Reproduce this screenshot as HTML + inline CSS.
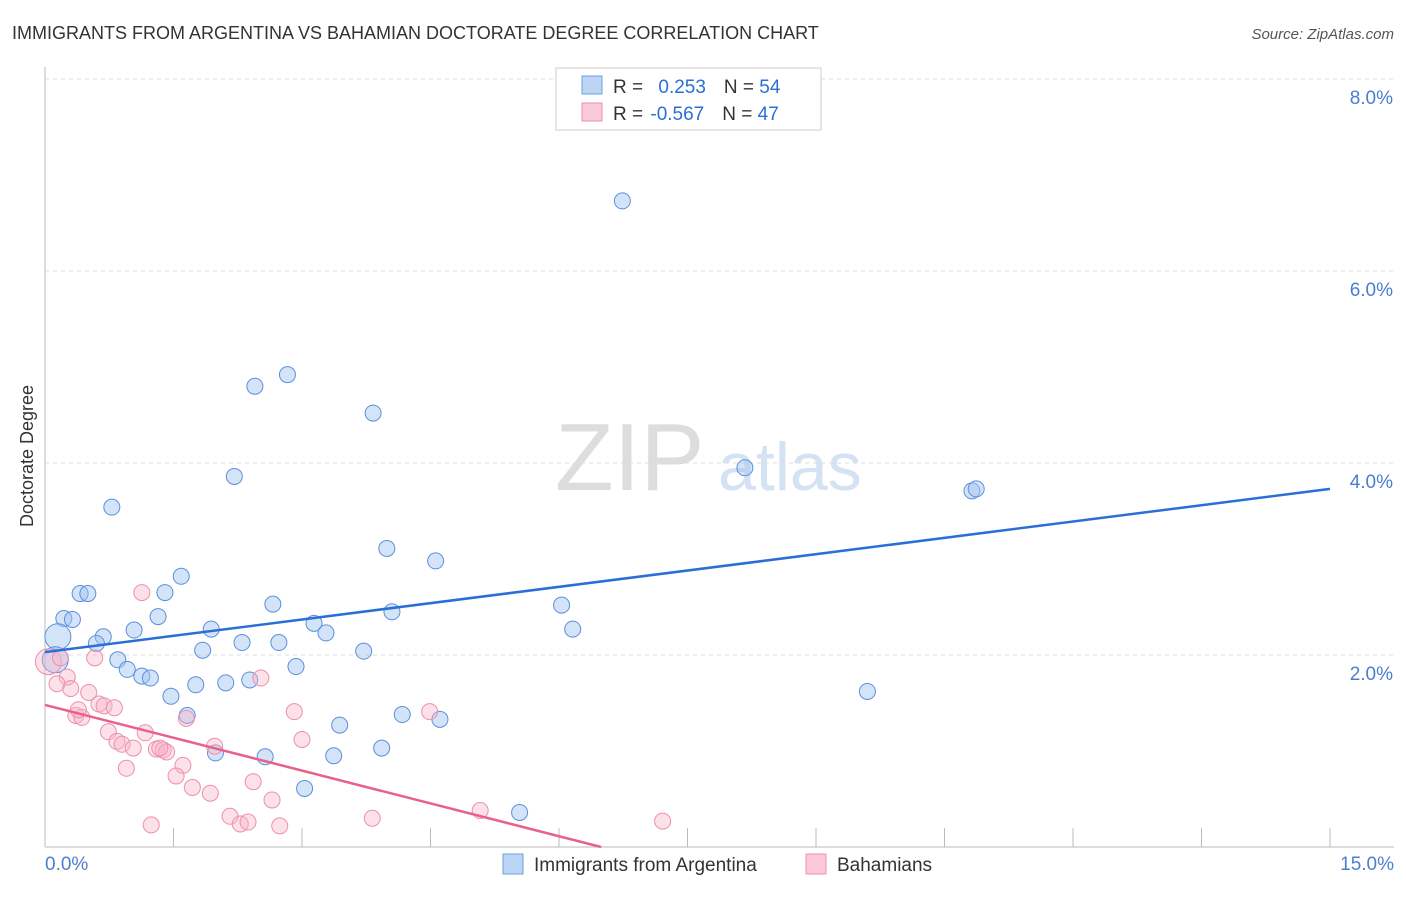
<!DOCTYPE html>
<html><head><meta charset="utf-8"><style>
body{margin:0;background:#fff;font-family:"Liberation Sans",sans-serif}
svg text{font-family:"Liberation Sans",sans-serif}
</style></head><body>
<svg id="c" width="1406" height="892">
<text x="12" y="39" font-size="18" fill="#333">IMMIGRANTS FROM ARGENTINA VS BAHAMIAN DOCTORATE DEGREE CORRELATION CHART</text>
<text x="1394" y="39" font-size="15" fill="#555" font-style="italic" text-anchor="end">Source: ZipAtlas.com</text>
<text x="0" y="0" transform="translate(33,456) rotate(-90)" font-size="18" fill="#333" text-anchor="middle">Doctorate Degree</text>
<text x="555" y="490" font-size="96" fill="#ddd" font-family="Liberation Serif">ZIP</text>
<text x="718" y="490" font-size="68" fill="#d5e2f3">atlas</text>
<g id="grid"></g><g id="pts"></g><g id="lines"></g>
<g>
<rect x="556" y="68" width="265" height="62" fill="#fff" stroke="#ccc"/>
<rect x="582" y="76" width="20" height="18" fill="#bdd5f5" stroke="#6d9fe0"/>
<rect x="582" y="103" width="20" height="18" fill="#fbcad8" stroke="#ee8fab"/>
<text x="613" y="93" font-size="19" fill="#333">R = <tspan fill="#2a6fd6" dx="10">0.253</tspan><tspan dx="18" fill="#333">N = </tspan><tspan fill="#2a6fd6">54</tspan></text>
<text x="613" y="120" font-size="19" fill="#333">R = <tspan fill="#2a6fd6" dx="2">-0.567</tspan><tspan dx="18" fill="#333">N = </tspan><tspan fill="#2a6fd6">47</tspan></text>
</g>
<g>
<rect x="503" y="854" width="20" height="20" fill="#bdd5f5" stroke="#6d9fe0"/>
<text x="534" y="871" font-size="19" fill="#333">Immigrants from Argentina</text>
<rect x="806" y="854" width="20" height="20" fill="#fbcad8" stroke="#ee8fab"/>
<text x="837" y="871" font-size="19" fill="#333">Bahamians</text>
</g>
</svg>
<script>
const xTicks=[0,1.5,3,4.5,6,7.5,9,10.5,12,13.5,15];
const yTicks=[2,4,6,8];
const blueX=[6.74,2.83,2.45,3.83,2.21,8.17,10.82,10.87,0.78,3.99,4.56,1.59,0.41,0.50,1.40,6.03,1.32,0.22,0.32,4.05,2.66,3.14,1.04,1.94,6.16,0.15,0.68,3.28,0.60,2.30,2.73,1.84,3.72,2.93,0.85,0.96,1.13,1.23,0.12,9.60,1.47,1.76,2.11,2.39,1.66,4.17,4.61,3.44,1.99,2.57,3.93,3.37,3.03,5.54];
const blueY=[6.73,4.92,4.80,4.52,3.86,3.95,3.71,3.73,3.54,3.11,2.98,2.82,2.64,2.64,2.65,2.52,2.40,2.38,2.37,2.45,2.53,2.33,2.26,2.27,2.27,2.19,2.19,2.23,2.12,2.13,2.13,2.05,2.04,1.88,1.95,1.85,1.78,1.76,1.95,1.62,1.57,1.69,1.71,1.74,1.37,1.38,1.33,1.27,0.98,0.94,1.03,0.95,0.61,0.36];
const blueR=[8,8,8,8,8,8,8,8,8,8,8,8,8,8,8,8,8,8,8,8,8,8,8,8,8,13,8,8,8,8,8,8,8,8,8,8,8,8,13,8,8,8,8,8,8,8,8,8,8,8,8,8,8,8];
const pinkX=[0.04,0.18,1.13,0.58,0.26,0.14,0.30,0.51,0.63,0.69,0.81,0.36,0.43,1.65,2.91,4.49,0.74,0.84,0.90,1.17,1.03,1.30,1.38,1.42,0.95,1.61,1.53,1.98,3.00,1.72,1.93,2.52,2.43,2.65,2.16,2.28,2.37,2.74,1.24,3.82,5.08,7.21,1.34,0.39];
const pinkY=[1.93,1.97,2.65,1.97,1.77,1.70,1.65,1.61,1.49,1.47,1.45,1.37,1.35,1.34,1.41,1.41,1.20,1.10,1.07,1.19,1.03,1.02,1.01,0.99,0.82,0.85,0.74,1.05,1.12,0.62,0.56,1.76,0.68,0.49,0.32,0.24,0.26,0.22,0.23,0.30,0.38,0.27,1.03,1.43];
const pinkR=[13,8,8,8,8,8,8,8,8,8,8,8,8,8,8,8,8,8,8,8,8,8,8,8,8,8,8,8,8,8,8,8,8,8,8,8,8,8,8,8,8,8,8,8];
const blueFit=[2.03,3.73];
const pinkFit=[1.48,-0.228];
const X0=45,X1=1330,Y0=847,YS=96;
const sx=v=>X0+(X1-X0)*v/15, sy=v=>Y0-v*YS;
const NS='http://www.w3.org/2000/svg';
function mk(t,a,p){const e=document.createElementNS(NS,t);for(const k in a)e.setAttribute(k,a[k]);p.appendChild(e);return e;}
const g=document.getElementById('grid');
const ax=mk('line',{x1:X0,y1:67,x2:X0,y2:Y0,stroke:'#bbb'},g);


const bx=mk('line',{x1:X0,y1:Y0,x2:1394,y2:Y0,stroke:'#bbb'},g);


yTicks.forEach(v=>{
 const l=mk('line',{x1:X0,y1:sy(v),x2:1394,y2:sy(v),stroke:'#ddd','stroke-dasharray':'4,4'},g);
 
 
 const t=mk('text',{x:1393,y:sy(v)+25,'font-size':19,fill:'#4a7fd0','text-anchor':'end'},g);
 t.textContent=v.toFixed(1)+'%';
 
 
});
xTicks.forEach((v,i)=>{if(i==0)return;
 const l=mk('line',{x1:sx(v),y1:Y0,x2:sx(v),y2:Y0-19,stroke:'#bbb'},g);
 
 
});
const t0=mk('text',{x:45,y:870,'font-size':19,fill:'#4a7fd0'},g);t0.textContent=xTicks[0].toFixed(1)+'%';


const t1=mk('text',{x:1394,y:870,'font-size':19,fill:'#4a7fd0','text-anchor':'end'},g);t1.textContent=xTicks[10].toFixed(1)+'%';


const p=document.getElementById('pts');
blueX.forEach((v,i)=>{const c=mk('circle',{cx:sx(v),cy:sy(blueY[i]),r:blueR[i],fill:'rgba(160,196,240,0.45)',stroke:'#5b8fdc','stroke-width':1},p);
 
 });
pinkX.forEach((v,i)=>{const c=mk('circle',{cx:sx(v),cy:sy(pinkY[i]),r:pinkR[i],fill:'rgba(248,180,200,0.4)',stroke:'#ee8fab','stroke-width':1},p);
 
 });
const L=document.getElementById('lines');
const bl=mk('line',{x1:sx(0),y1:sy(blueFit[0]),x2:sx(15),y2:sy(blueFit[1]),stroke:'#2a6fd6','stroke-width':2.5},L);


const xe=-pinkFit[0]/pinkFit[1];
const pl=mk('line',{x1:sx(0),y1:sy(pinkFit[0]),x2:sx(xe),y2:sy(0),stroke:'#e8608c','stroke-width':2.5},L);


</script>
</body></html>
